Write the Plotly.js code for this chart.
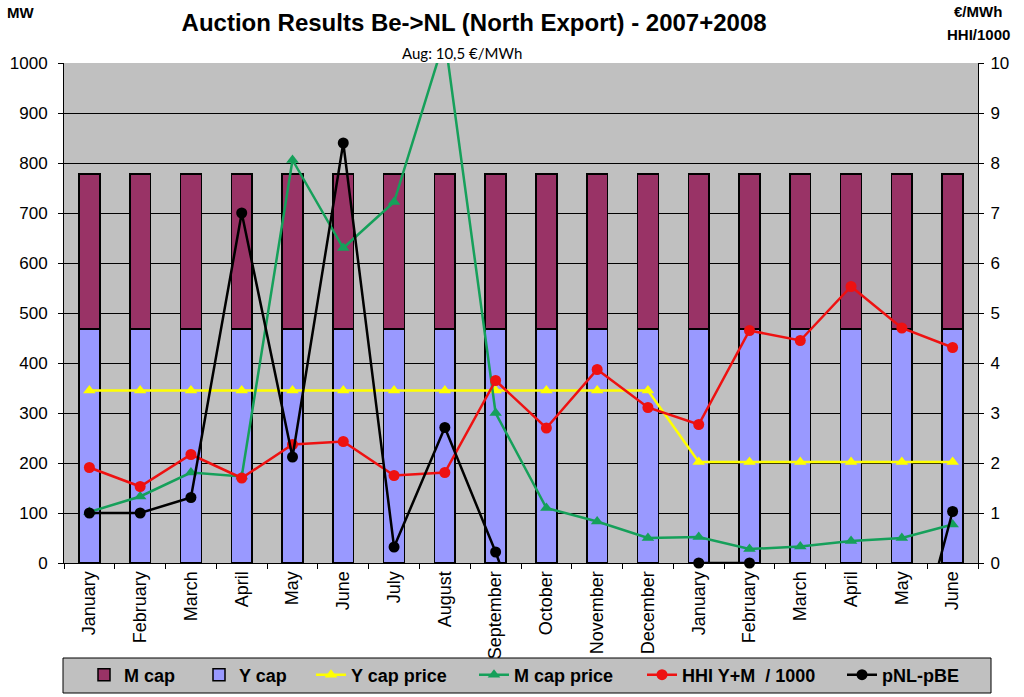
<!DOCTYPE html>
<html>
<head>
<meta charset="utf-8">
<script src="https://cdn.plot.ly/plotly-3.0.1.min.js"></script>
<style>
html,body{margin:0;padding:0;background:#fff;}
#chart{width:1024px;height:697px;}
</style>
</head>
<body>
<div id="chart"></div>
<script>
// ---- data ----
const months = ["January","February","March","April","May","June","July","August","September","October","November","December","January","February","March","April","May","June"];
const years  = [2007,2007,2007,2007,2007,2007,2007,2007,2007,2007,2007,2007,2008,2008,2008,2008,2008,2008];
const yCap = [468,468,468,468,468,468,468,468,468,468,468,468,468,468,468,468,468,468];
const mCap = [310,310,310,310,310,310,310,310,310,310,310,310,310,310,310,310,310,310];
const yCapPrice = [3.45,3.45,3.45,3.45,3.45,3.45,3.45,3.45,3.45,3.45,3.45,3.45,2.02,2.02,2.02,2.02,2.02,2.02];
const mCapPrice = [1.02,1.33,1.81,1.73,8.06,6.3,7.22,10.5,3.0,1.1,0.83,0.5,0.52,0.28,0.33,0.44,0.5,0.77];
const hhi = [1.91,1.53,2.17,1.70,2.37,2.43,1.75,1.81,3.65,2.70,3.87,3.11,2.77,4.65,4.45,5.53,4.70,4.31];
const pNLpBE = [1.0,1.0,1.31,7.0,2.12,8.4,0.32,2.71,0.22,-2.6,-3.0,-2.0,0,0,-3.0,-4.0,-2.8,1.03];
const seriesNames = ["M cap","Y cap","Y cap price","M cap price","HHI Y+M  / 1000","pNL-pBE"];

const cats = months.map((m,i)=> m + " " + years[i]);

const ARIAL = "Liberation Sans, Arial, sans-serif";

// plot area in pixels
const PL = 64, PR = 978, PT = 63, PB = 563;
const px2x = p => (p - PL) / (PR - PL);
const px2y = p => (PB - p) / (PB - PT);

const traces = [
  {type:"bar", name:seriesNames[1], x:cats, y:yCap, legend:"legend2",
   marker:{color:"#9999ff", line:{color:"#000", width:1.5}}},
  {type:"bar", name:seriesNames[0], x:cats, y:mCap, legend:"legend",
   marker:{color:"#993366", line:{color:"#000", width:1.5}}},
  {type:"scatter", mode:"lines+markers", name:seriesNames[2], x:cats, y:yCapPrice, yaxis:"y2", legend:"legend3",
   line:{color:"#ffff00", width:2.5}, marker:{symbol:"triangle-up", size:11, color:"#ffff00"}},
  {type:"scatter", mode:"lines+markers", name:seriesNames[3], x:cats, y:mCapPrice, yaxis:"y2", legend:"legend4",
   line:{color:"#15a05a", width:2.5}, marker:{symbol:"triangle-up", size:11, color:"#15a05a"}},
  {type:"scatter", mode:"lines+markers", name:seriesNames[4], x:cats, y:hhi, yaxis:"y2", legend:"legend5",
   line:{color:"#ee1111", width:2.5}, marker:{symbol:"circle", size:11, color:"#ee1111"}},
  {type:"scatter", mode:"lines+markers", name:seriesNames[5], x:cats, y:pNLpBE, yaxis:"y2", legend:"legend6",
   cliponaxis:false,
   line:{color:"#000", width:2.5},
   marker:{symbol:"circle", size:11, color:pNLpBE.map(v => v >= 0 ? "#000" : "rgba(0,0,0,0)")}}
];

// legend entries: text start in px (reference)
const legendTextStart = [125, 240, 352, 515, 683, 883];
const legendKeys = ["legend","legend2","legend3","legend4","legend5","legend6"];
const legendY = px2y(675);

const layout = {
  width:1024, height:697,
  margin:{l:PL, r:1024-PR, t:PT, b:697-PB, pad:0, autoexpand:false},
  paper_bgcolor:"#fff",
  plot_bgcolor:"#c0c0c0",
  barmode:"stack",
  bargap:0.59,
  showlegend:true,
  font:{family:ARIAL, color:"#000"},
  title:{text:"<b>Auction Results Be->NL (North Export) - 2007+2008</b>",
         font:{family:ARIAL, size:24, color:"#000"},
         x:0.463, xref:"container", xanchor:"center", y:0.968, yref:"container", yanchor:"middle"},
  xaxis:{type:"category", tickmode:"array", tickvals:cats, ticktext:months, range:[-0.5, 17.5],
         tickangle:-90, tickfont:{family:ARIAL, size:18, color:"#000"},
         ticks:"outside", tickson:"boundaries", ticklen:5, tickcolor:"#000",
         showline:true, linecolor:"#000", linewidth:1, showgrid:false, fixedrange:true},
  yaxis:{range:[0,1000], dtick:100, tickfont:{family:ARIAL, size:17, color:"#000"},
         ticks:"outside", ticklen:5, tickcolor:"#000", ticklabelstandoff:7,
         showline:true, linecolor:"#000", linewidth:1,
         gridcolor:"#000", gridwidth:1, zeroline:false, fixedrange:true},
  yaxis2:{range:[0,10], dtick:1, overlaying:"y", side:"right",
          tickfont:{family:ARIAL, size:17, color:"#000"},
          ticks:"outside", ticklen:5, tickcolor:"#000", ticklabelstandoff:3,
          showline:true, linecolor:"#000", linewidth:1,
          showgrid:false, zeroline:false, fixedrange:true},
  shapes:[
    {type:"rect", xref:"paper", yref:"paper", layer:"above",
     x0:px2x(63), x1:px2x(991), y0:px2y(693), y1:px2y(658),
     fillcolor:"#c0c0c0", line:{color:"#000", width:1}}
  ],
  annotations:[
    {text:"<b>MW</b>", xref:"paper", yref:"paper", x:px2x(20), y:px2y(13), xanchor:"center", yanchor:"middle",
     showarrow:false, font:{family:ARIAL, size:15, color:"#000"}},
    {text:"<b>€/MWh</b>", xref:"paper", yref:"paper", x:px2x(978), y:px2y(12), xanchor:"center", yanchor:"middle",
     showarrow:false, font:{family:ARIAL, size:15, color:"#000"}},
    {text:"<b>HHI/1000</b>", xref:"paper", yref:"paper", x:px2x(978), y:px2y(35), xanchor:"center", yanchor:"middle",
     showarrow:false, font:{family:ARIAL, size:15, color:"#000"}},
    {text:"Aug: 10,5 €/MWh", xref:"paper", yref:"paper", x:px2x(462), y:px2y(53), xanchor:"center", yanchor:"middle",
     showarrow:false, font:{family:"Lato, Open Sans, sans-serif", size:15, color:"#000"}}
  ]
};

legendKeys.forEach((k, i) => {
  layout[k] = {orientation:"h", x:px2x(legendTextStart[i] - 41), xanchor:"left",
               y:legendY, yanchor:"middle",
               bgcolor:"rgba(0,0,0,0)", borderwidth:0, itemwidth:30,
               font:{family:ARIAL, size:18, color:"#000", weight:"bold"}};
});

Plotly.newPlot("chart", traces, layout, {displayModeBar:false, staticPlot:true});
</script>
</body>
</html>
